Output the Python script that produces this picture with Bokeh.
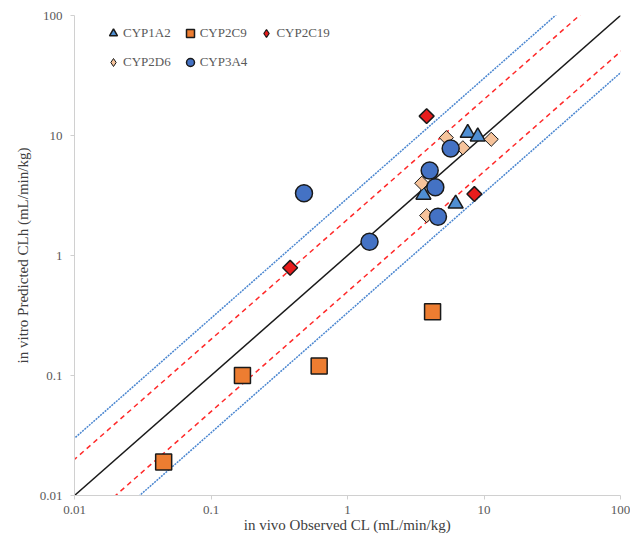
from bokeh.plotting import figure
from bokeh.models import FixedTicker, Legend, LegendItem, CustomJSTickFormatter
from bokeh.embed import file_html
from bokeh.resources import INLINE
import numpy as np

# ---- data ----
cyp1a2_x = [7.6, 9.0, 3.6, 6.2]
cyp1a2_y = [10.5, 9.8, 3.2, 2.7]
cyp2c9_x = [0.045, 0.17, 0.62, 4.2]
cyp2c9_y = [0.019, 0.10, 0.12, 0.34]
cyp2c19_x = [3.8, 8.5, 0.38]
cyp2c19_y = [14.5, 3.25, 0.79]
cyp2d6_x = [5.3, 11.3, 7.0, 3.5, 3.8]
cyp2d6_y = [9.6, 9.3, 7.9, 4.0, 2.15]
cyp3a4_x = [5.7, 4.0, 4.4, 4.6, 0.48, 1.45]
cyp3a4_y = [7.8, 5.1, 3.7, 2.1, 3.3, 1.3]

series_names = ["CYP1A2", "CYP2C9", "CYP2C19", "CYP2D6", "CYP3A4"]
tick_values = [0.01, 0.1, 1, 10, 100]
tick_labels = ["0.01", "0.1", "1", "10", "100"]
fold_lines = [1, 2, 0.5, 3, 1 / 3]

FONT = "Liberation Serif"

p = figure(width=630, height=542, x_axis_type="log", y_axis_type="log",
           x_range=(0.01, 100), y_range=(0.01, 100),
           output_backend="svg", toolbar_location=None,
           min_border_left=74, min_border_right=10, min_border_top=15,
           min_border_bottom=47)
p.outline_line_color = None
p.grid.visible = False

# reference lines (1:1, 2-fold, 3-fold)
lx = [0.001, 1000]
styles = {1: ("#1a1a1a", None), 2: ("#ff2a2a", "5 4"), 0.5: ("#ff2a2a", "5 4"),
          3: ("#4a86d0", "2 1"), 1 / 3: ("#4a86d0", "2 1")}
for k in fold_lines:
    col, dash = styles[k]
    ly = [v * k for v in lx]
    if dash:
        p.line(lx, ly, line_color=col, line_width=1.5, line_dash=dash)
    else:
        p.line(lx, ly, line_color=col, line_width=1.5)

OUT = "#1a1a1a"
C_1A2, C_2C9, C_2C19, C_2D6, C_3A4 = "#4f8fd3", "#ed7d31", "#e81c1c", "#f6c39b", "#4472c4"
r1 = p.scatter(cyp1a2_x, cyp1a2_y, marker="triangle", size=15,
               fill_color=C_1A2, line_color=OUT, line_width=1.5)
r2 = p.scatter(cyp2c9_x, cyp2c9_y, marker="square", size=16,
               fill_color=C_2C9, line_color=OUT, line_width=1.5)
# diamond glyphs (used as legend symbols; hidden beneath the rotated squares)
l3 = p.scatter(cyp2c19_x, cyp2c19_y, marker="diamond", size=9,
               fill_color=C_2C19, line_color=OUT, line_width=1.2)
r3 = p.scatter(cyp2c19_x, cyp2c19_y, marker="square", size=10.5, angle=np.pi / 4,
               fill_color=C_2C19, line_color=OUT, line_width=1.5)
l4 = p.scatter(cyp2d6_x, cyp2d6_y, marker="diamond", size=9,
               fill_color=C_2D6, line_color=OUT, line_width=1.0)
r4 = p.scatter(cyp2d6_x, cyp2d6_y, marker="square", size=10, angle=np.pi / 4,
               fill_color=C_2D6, line_color=OUT, line_width=1.0)
r5 = p.scatter(cyp3a4_x, cyp3a4_y, marker="circle", size=17,
               fill_color=C_3A4, line_color=OUT, line_width=1.5)

fmt = CustomJSTickFormatter(args=dict(vals=tick_values, labs=tick_labels), code="""
let best = 0, bd = Infinity;
for (let i = 0; i < vals.length; i++) {
  const d = Math.abs(Math.log10(vals[i]) - Math.log10(tick));
  if (d < bd) { bd = d; best = i; }
}
return labs[best];
""")

for ax in (p.xaxis[0], p.yaxis[0]):
    ax.ticker = FixedTicker(ticks=tick_values)
    ax.formatter = fmt
    ax.minor_tick_line_color = None
    ax.axis_line_color = "#d0d0d0"
    ax.major_tick_line_color = "#d0d0d0"
    ax.major_tick_out = 4
    ax.major_tick_in = 0
    ax.major_label_text_font = FONT
    ax.major_label_text_font_size = "13px"
    ax.major_label_text_color = "#595959"
    ax.axis_label_text_font = FONT
    ax.axis_label_text_font_size = "15px"
    ax.axis_label_text_font_style = "normal"
    ax.axis_label_text_color = "#404040"

p.xaxis.axis_label = "in vivo Observed CL (mL/min/kg)"
p.yaxis.axis_label = "in vitro Predicted CLh (mL/min/kg)"
p.xaxis.major_label_standoff = 6
p.xaxis.axis_label_standoff = 0
p.yaxis.major_label_standoff = 8
p.yaxis.axis_label_standoff = 6

legend = Legend(items=[
    LegendItem(label=series_names[0], renderers=[r1]),
    LegendItem(label=series_names[1], renderers=[r2]),
    LegendItem(label=series_names[2], renderers=[l3]),
    LegendItem(label=series_names[3], renderers=[l4]),
    LegendItem(label=series_names[4], renderers=[r5]),
], location=(29, 423), orientation="horizontal", ncols=3,
    border_line_color=None, background_fill_alpha=0,
    label_text_font=FONT, label_text_font_size="13px", label_text_color="#595959",
    glyph_width=20, glyph_height=20, label_height=20, label_standoff=0,
    spacing=9, padding=0, margin=0)
p.add_layout(legend)

open("out.html", "w").write(file_html(p, INLINE))
